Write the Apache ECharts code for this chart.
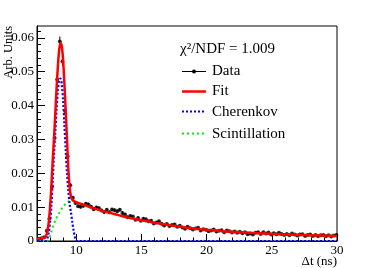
<!DOCTYPE html>
<html>
<head>
<meta charset="utf-8">
<script src="https://cdn.jsdelivr.net/npm/echarts@6/dist/echarts.min.js"></script>
<style>html,body{margin:0;padding:0;background:#fff;}#c{width:374px;height:268px;}</style>
</head>
<body>
<div id="c"></div>
<script>
// ---- Data ----
const binStart = 7.05;
const binWidth = 0.2;
const dataY = [
  0.0007, 0.0008, 0.0011, 0.0030, 0.0066, 0.0160, 0.0304, 0.0477, 0.0589, 0.0530, 0.0384, 0.0250, 0.0165, 0.0128, 0.0112,
  0.0103, 0.0101, 0.0104, 0.0110, 0.0108, 0.0101, 0.0094, 0.0099, 0.0097, 0.0090,
  0.0086, 0.0092, 0.0085, 0.0093, 0.0091, 0.0088, 0.0092, 0.0083, 0.0078, 0.0070,
  0.0074, 0.0072, 0.0063, 0.0068, 0.0060, 0.0066, 0.0064, 0.0058, 0.0060, 0.0052,
  0.0055, 0.0058, 0.0051, 0.0046, 0.0050, 0.0044, 0.0047, 0.0049, 0.0042, 0.0045,
  0.0040, 0.0036, 0.0042, 0.0038, 0.0034, 0.0037, 0.0039, 0.0031, 0.0035, 0.0033,
  0.0029, 0.0031, 0.0034, 0.0028, 0.0030, 0.0032, 0.0026, 0.0031, 0.0029, 0.0025,
  0.0028, 0.0024, 0.0027, 0.0023, 0.0026, 0.0020, 0.0022, 0.0019, 0.0024, 0.0026,
  0.0021, 0.0026, 0.0022, 0.0025, 0.0019, 0.0023, 0.0020, 0.0024, 0.0021, 0.0018,
  0.0021, 0.0017, 0.0022, 0.0019, 0.0016, 0.0019, 0.0020, 0.0015, 0.0018, 0.0019,
  0.0015, 0.0018, 0.0014, 0.0017, 0.0018, 0.0014, 0.0017, 0.0013, 0.0016, 0.0018
];
const dataErr = [
  0.0002, 0.0002, 0.0002, 0.0003, 0.0004, 0.0006, 0.0009, 0.0012, 0.0015, 0.0013, 0.0010, 0.0008, 0.0006, 0.0005, 0.0005,
  0.0005, 0.0005, 0.0005, 0.0005, 0.0005, 0.0005, 0.0005, 0.0005, 0.0005, 0.0005,
  0.0005, 0.0005, 0.0005, 0.0005, 0.0005, 0.0005, 0.0005, 0.0005, 0.0005, 0.0005,
  0.0004, 0.0004, 0.0004, 0.0004, 0.0004, 0.0004, 0.0004, 0.0004, 0.0004, 0.0004,
  0.0004, 0.0004, 0.0004, 0.0004, 0.0004, 0.0004, 0.0004, 0.0004, 0.0004, 0.0004,
  0.0003, 0.0003, 0.0003, 0.0003, 0.0003, 0.0003, 0.0003, 0.0003, 0.0003, 0.0003,
  0.0003, 0.0003, 0.0003, 0.0003, 0.0003, 0.0003, 0.0003, 0.0003, 0.0003, 0.0003,
  0.0003, 0.0003, 0.0003, 0.0003, 0.0003, 0.0003, 0.0003, 0.0003, 0.0003, 0.0003,
  0.0002, 0.0002, 0.0002, 0.0002, 0.0002, 0.0002, 0.0002, 0.0002, 0.0002, 0.0002,
  0.0002, 0.0002, 0.0002, 0.0002, 0.0002, 0.0002, 0.0002, 0.0002, 0.0002, 0.0002,
  0.0002, 0.0002, 0.0002, 0.0002, 0.0002, 0.0002, 0.0002, 0.0002, 0.0002, 0.0002
];
const fitX = [7.0, 7.4, 7.6, 7.7, 7.8, 7.9, 8.0, 8.1, 8.2, 8.3, 8.4, 8.5, 8.6, 8.7, 8.8, 8.9, 9.0, 9.1, 9.2, 9.3, 9.4, 9.5, 9.6, 9.7, 9.8,
  10.0, 10.5, 11, 11.5, 12, 12.5, 13, 13.5, 14, 14.5, 15, 16, 17, 18, 19, 20, 21, 22, 23, 24, 25, 26, 27, 28, 29, 30];
const fitY = [0.0007, 0.0008, 0.0010, 0.0015, 0.0030, 0.0055, 0.0100, 0.0160, 0.0235, 0.0300, 0.0375, 0.0450, 0.0515, 0.0565, 0.0585, 0.0575, 0.0535, 0.0465, 0.0385, 0.0300, 0.0215, 0.0160, 0.0132, 0.0122, 0.0119,
  0.0115, 0.0108, 0.0101, 0.0095, 0.0089, 0.0084, 0.0079, 0.0074, 0.0069, 0.0065, 0.0061, 0.0054, 0.0048, 0.0042, 0.0037, 0.0033, 0.0030, 0.0027, 0.0025, 0.0023, 0.0021, 0.0019, 0.0018, 0.0017, 0.0016, 0.0015];
const cherX = [7.0, 7.7, 7.8, 7.9, 8.0, 8.1, 8.2, 8.3, 8.4, 8.5, 8.6, 8.7, 8.8, 8.9, 9.0, 9.1, 9.2, 9.3, 9.4, 9.5, 9.6, 9.7, 9.8, 9.9, 10.0, 10.1, 30];
const cherY = [0, 0, 0.0008, 0.0025, 0.0055, 0.0105, 0.0175, 0.0255, 0.0320, 0.0390, 0.0445, 0.0476, 0.0480, 0.0462, 0.0415, 0.0345, 0.0270, 0.0200, 0.0150, 0.0110, 0.0085, 0.0058, 0.0032, 0.0012, 0.0002, 0, 0];
const scintX = [7.0, 7.8, 7.9, 8.0, 8.1, 8.2, 8.3, 8.4, 8.5, 8.6, 8.7, 8.8, 8.9, 9.0, 9.2, 9.4, 9.6, 9.8,
  10.0, 10.5, 11, 11.5, 12, 12.5, 13, 13.5, 14, 14.5, 15, 16, 17, 18, 19, 20, 21, 22, 23, 24, 25, 26, 27, 28, 29, 30];
const scintY = [0, 0, 0.0005, 0.0015, 0.0028, 0.0040, 0.0050, 0.0060, 0.0068, 0.0076, 0.0083, 0.0090, 0.0096, 0.0102, 0.0110, 0.0116, 0.0120, 0.0119,
  0.0115, 0.0108, 0.0101, 0.0095, 0.0089, 0.0084, 0.0079, 0.0074, 0.0069, 0.0065, 0.0061, 0.0054, 0.0048, 0.0042, 0.0037, 0.0033, 0.0030, 0.0027, 0.0025, 0.0023, 0.0021, 0.0019, 0.0018, 0.0017, 0.0016, 0.0015];
const xMajorTicks = [10, 15, 20, 25, 30];
const xMinorTicks = [8, 9, 11, 12, 13, 14, 16, 17, 18, 19, 21, 22, 23, 24, 26, 27, 28, 29];
const yMajorTicks = [0, 0.01, 0.02, 0.03, 0.04, 0.05, 0.06];
const yTickLabels = ['0', '0.01', '0.02', '0.03', '0.04', '0.05', '0.06'];
const yMinorTicks = [0.002, 0.004, 0.006, 0.008, 0.012, 0.014, 0.016, 0.018, 0.022, 0.024, 0.026, 0.028,
  0.032, 0.034, 0.036, 0.038, 0.042, 0.044, 0.046, 0.048, 0.052, 0.054, 0.056, 0.058, 0.062];

// ---- build ----
const FONT = '"Liberation Serif", "DejaVu Serif", serif';
const dataPts = dataY.map((y, i) => [binStart + binWidth * (i + 0.5), y]);
const errPts = dataY.map((y, i) => [binStart + binWidth * (i + 0.5), y, dataErr[i]]);
const pairs = (xs, ys) => xs.map((x, i) => [x, ys[i]]);

const chart = echarts.init(document.getElementById('c'), null, {renderer: 'canvas'});
const axisBase = {
  type: 'value', min: 7, max: 30, splitLine: {show: false}
};
chart.setOption({
  animation: false,
  backgroundColor: '#fff',
  grid: {left: 37, top: 26, width: 300, height: 215, show: true, borderColor: '#000', borderWidth: 1, backgroundColor: 'transparent'},
  xAxis: [
    Object.assign({}, axisBase, {
      position: 'bottom',
      axisLine: {show: true, lineStyle: {color: '#000', width: 1}},
      axisTick: {show: true, inside: true, length: 7, customValues: xMajorTicks, lineStyle: {color: '#000'}},
      axisLabel: {show: true, customValues: xMajorTicks, color: '#000', fontFamily: FONT, fontSize: 13, margin: 3}
    }),
    Object.assign({}, axisBase, {
      position: 'bottom', offset: 0,
      axisLine: {show: false},
      axisTick: {show: true, inside: true, length: 3.5, customValues: xMinorTicks, lineStyle: {color: '#000'}},
      axisLabel: {show: false}
    })
  ],
  yAxis: [
    {
      type: 'value', min: 0, max: 0.0635, position: 'left', splitLine: {show: false},
      axisLine: {show: true, lineStyle: {color: '#000', width: 1}},
      axisTick: {show: true, inside: true, length: 8, customValues: yMajorTicks, lineStyle: {color: '#000'}},
      axisLabel: {show: true, customValues: yMajorTicks, color: '#000', fontFamily: FONT, fontSize: 13, margin: 3,
        formatter: v => yTickLabels[yMajorTicks.findIndex(t => Math.abs(t - v) < 1e-9)] }
    },
    {
      type: 'value', min: 0, max: 0.0635, position: 'left', offset: 0, splitLine: {show: false},
      axisLine: {show: false},
      axisTick: {show: true, inside: true, length: 4, customValues: yMinorTicks, lineStyle: {color: '#000'}},
      axisLabel: {show: false}
    }
  ],
  series: [
    {name: 'DataErr', type: 'custom', data: errPts, z: 2,
      renderItem: (params, api) => {
        const x = api.value(0), y = api.value(1), e = api.value(2);
        const p1 = api.coord([x, y - e]), p2 = api.coord([x, y + e]);
        return {type: 'line', shape: {x1: p1[0], y1: p1[1], x2: p2[0], y2: p2[1]}, style: {stroke: '#000', lineWidth: 1}};
      }},
    {name: 'Data', type: 'scatter', data: dataPts, symbol: 'circle', symbolSize: 4, itemStyle: {color: '#000'}, z: 3},
    {name: 'Scintillation', type: 'line', data: pairs(scintX, scintY), smooth: 0.3, showSymbol: false, symbol: 'none',
      lineStyle: {color: '#00ee00', width: 2, type: [2, 3]}, z: 4},
    {name: 'Cherenkov', type: 'line', data: pairs(cherX, cherY), smooth: 0.3, showSymbol: false, symbol: 'none',
      lineStyle: {color: '#0000ff', width: 2.2, type: [2, 2]}, z: 5},
    {name: 'Fit', type: 'line', data: pairs(fitX, fitY), smooth: 0.3, showSymbol: false, symbol: 'none',
      lineStyle: {color: '#ff0000', width: 2.5}, z: 6}
  ],
  graphic: [
    {type: 'text', x: 9, y: 26, rotation: Math.PI / 2, style: {text: 'Arb. Units', fill: '#000', font: '12.5px ' + FONT, align: 'right', verticalAlign: 'middle'}},
    {type: 'text', x: 337, y: 262, style: {text: 'Δt (ns)', fill: '#000', font: '13px ' + FONT, align: 'right', verticalAlign: 'middle'}},
    {type: 'text', x: 180, y: 49, style: {text: 'χ²/NDF = 1.009', fill: '#000', font: '15px ' + FONT, align: 'left', verticalAlign: 'middle'}},
    {type: 'line', shape: {x1: 182, y1: 71.5, x2: 206, y2: 71.5}, style: {stroke: '#000', lineWidth: 1}},
    {type: 'circle', shape: {cx: 194, cy: 71.5, r: 2}, style: {fill: '#000'}},
    {type: 'text', x: 212, y: 71.5, style: {text: 'Data', fill: '#000', font: '15px ' + FONT, align: 'left', verticalAlign: 'middle'}},
    {type: 'line', shape: {x1: 182, y1: 91.5, x2: 206, y2: 91.5}, style: {stroke: '#ff0000', lineWidth: 2.5}},
    {type: 'text', x: 212, y: 91.5, style: {text: 'Fit', fill: '#000', font: '15px ' + FONT, align: 'left', verticalAlign: 'middle'}},
    {type: 'line', shape: {x1: 182, y1: 111.5, x2: 206, y2: 111.5}, style: {stroke: '#0000ff', lineWidth: 2, lineDash: [2, 2]}},
    {type: 'text', x: 212, y: 112, style: {text: 'Cherenkov', fill: '#000', font: '15px ' + FONT, align: 'left', verticalAlign: 'middle'}},
    {type: 'line', shape: {x1: 182, y1: 133.5, x2: 206, y2: 133.5}, style: {stroke: '#00ee00', lineWidth: 2, lineDash: [2, 3]}},
    {type: 'text', x: 212, y: 134, style: {text: 'Scintillation', fill: '#000', font: '15px ' + FONT, align: 'left', verticalAlign: 'middle'}}
  ]
});
</script>
</body>
</html>
